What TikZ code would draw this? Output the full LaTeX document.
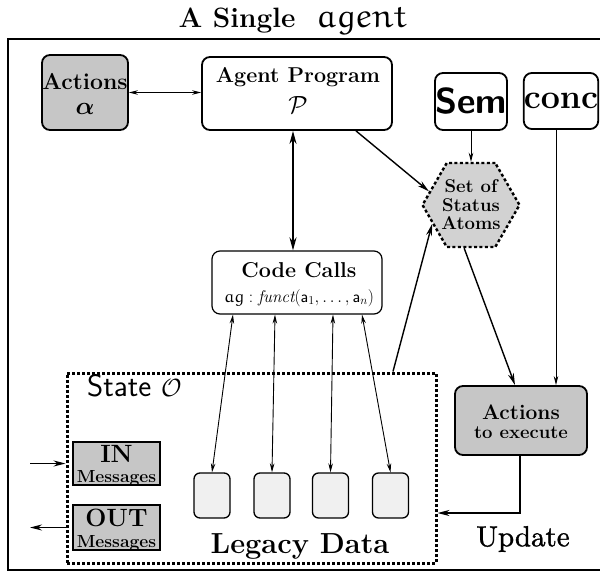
\documentclass[tikz,border=0pt]{standalone}
\usepackage{amsmath,amssymb}
\usepackage{fontspec}
\newfontfamily\updfont{lmroman10-regular.otf}[FakeBold=1.2]
\usetikzlibrary{arrows.meta,shapes.geometric,calc}
\newcommand{\eul}[1]{{\fontencoding{U}\fontfamily{eur}\fontseries{m}\fontshape{n}\selectfont #1}}
\newcommand{\fsz}[1]{\fontsize{#1}{#1}\selectfont}
\begin{document}
\begin{tikzpicture}[x=1pt,y=-1pt,
  rbox/.style={draw,line width=1.8pt,rounded corners=8pt,inner sep=0pt},
  dark/.style={fill=gray!45},
  sbox/.style={draw,line width=1.5pt,inner sep=0pt,fill=gray!45},
  ldata/.style={draw,line width=1.3pt,rounded corners=6pt,fill=gray!12,minimum width=36pt,minimum height=45pt},
  thin/.style={line width=0.9pt,-{Stealth[length=9pt,width=4.5pt]}},
  thindbl/.style={line width=0.9pt,{Stealth[length=9pt,width=4.5pt]}-{Stealth[length=9pt,width=4.5pt]}},
  med/.style={line width=1.4pt,-{Stealth[length=12pt,width=6pt]}},
  thickdbl/.style={line width=1.9pt,{Stealth[length=13pt,width=7pt]}-{Stealth[length=13pt,width=7pt]}},
  lab/.style={inner sep=0pt}]
\useasboundingbox (0,0) rectangle (600,575);
\fill[white] (0,0) rectangle (600,575);
% title
\node[lab] (title) at (293,20) {\fsz{28}\bfseries A Single\ \ \fsz{33}\eul{agent}};
% outer frame
\draw[line width=1.2pt] (8,39) rectangle (608,570);
% top row
\node[rbox,dark,minimum width=86pt,minimum height=75pt] (Act) at (85,92.5) {};
\node[lab] (ActT) at (85,82) {\fsz{23}\bfseries Actions};
\node[lab] (ActA) at (85,109) {\fsz{29}$\boldsymbol{\alpha}$};
\node[rbox,minimum width=190pt,minimum height=73pt] (AP) at (297,93.5) {};
\node[lab] (APT) at (298,77.5) {\fsz{21.5}\bfseries Agent Program};
\node[lab] (APP) at (298,105) {\fsz{32}$\mathcal{P}$};
\node[rbox,minimum width=72pt,minimum height=57pt] (Sem) at (471,101.5)
  {\fsz{36}\sffamily\bfseries Sem};
\node[rbox,minimum width=74pt,minimum height=56pt] (conc) at (561,101)
  {\fsz{34}\bfseries conc};
% hexagon
\node[regular polygon,regular polygon sides=6,minimum size=97pt,inner sep=0pt,
  draw,line width=2.4pt,dash pattern=on 3pt off 2.4pt,fill=gray!35,align=center,
  font=\fontsize{18.5}{18.5}\selectfont\bfseries] (Hex) at (471,205)
  {Set of\\Status\\Atoms};
% code calls
\node[rbox,line width=1.2pt,minimum width=170pt,minimum height=63pt] (CC) at (297,282.5) {};
\node[lab] (CCT) at (299,270) {\fsz{21.5}\bfseries Code Calls};
\node[lab] (CCF) at (299,298) {\fsz{17}$\text{\eul{ag}}:\mathit{funct}(\mathsf{a}_1,\ldots,\mathsf{a}_n)$};
% state box
\node[draw,line width=3pt,dash pattern=on 2.6pt off 2.4pt,minimum width=369pt,minimum height=190pt,inner sep=0pt] (State) at (251.5,468) {};
\node[lab,anchor=west] (StateL) at (87,386) {\fsz{31}\sffamily State $\mathcal{O}$};
% messages
\node[sbox,minimum width=87pt,minimum height=43pt] (IN) at (116.5,463.5) {};
\node[lab] (INT) at (116.5,453.5) {\fsz{25}\bfseries IN};
\node[lab] (INM) at (116.5,478) {\fsz{17.5}\bfseries Messages};
\node[sbox,minimum width=87pt,minimum height=45pt] (OUT) at (116.5,527.5) {};
\node[lab] (OUTT) at (116.5,517.5) {\fsz{25}\bfseries OUT};
\node[lab] (OUTM) at (116.5,543) {\fsz{17.5}\bfseries Messages};
% legacy data
\node[ldata] (L1) at (212,495.5) {};
\node[ldata] (L2) at (272,495.5) {};
\node[ldata] (L3) at (330.5,495.5) {};
\node[ldata] (L4) at (390.5,495.5) {};
\node[lab] (LD) at (300,546) {\fsz{29}\bfseries Legacy Data};
% actions to execute
\node[rbox,dark,minimum width=132pt,minimum height=69pt] (ATE) at (521,420.5) {};
\node[lab] (ATET) at (521,412) {\fsz{21}\bfseries Actions};
\node[lab] (ATEE) at (521,433) {\fsz{18.5}\bfseries to execute};
\node[lab] (Upd) at (523,539) {\fsz{29}\updfont Update};
% connectors
\draw[thindbl] (Act.east) -- (AP.west |- Act.east);
\draw[thickdbl] ([xshift=-4pt]AP.south) -- ([xshift=-4pt]CC.north);
\draw[med] ([xshift=59pt]AP.south) -- (Hex.162);
\draw[thin] (Sem.south) -- (Hex.90);
\draw[med] ([xshift=141.5pt]State.north) -- (Hex.206);
\draw[med] (Hex.261) -- ([xshift=-6pt]ATE.north);
\draw[thin] ([xshift=-5pt]conc.south) -- ([xshift=-5pt]conc.south |- ATE.north);
\draw[med] ([xshift=-1pt]ATE.south) |- ([yshift=-45pt]State.east);
\draw[thindbl] ([xshift=-64pt]CC.south) -- (L1.north);
\draw[thindbl] ([xshift=-22pt]CC.south) -- (L2.north);
\draw[thindbl] ([xshift=36pt]CC.south) -- (L3.north);
\draw[thindbl] ([xshift=65pt]CC.south) -- (L4.north);
\coordinate (inS) at (30,463.5);
\coordinate (outE) at (30,527.5);
\draw[med] (inS) -- (State.west |- IN);
\draw[med] (State.west |- OUT) -- (outE);
\end{tikzpicture}
\end{document}
